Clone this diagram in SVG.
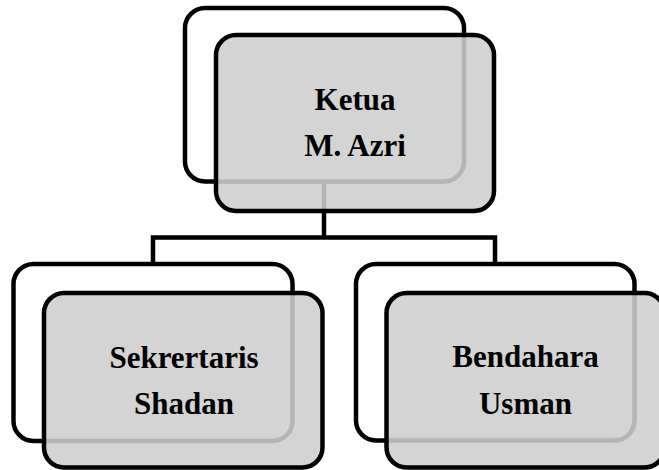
<svg xmlns="http://www.w3.org/2000/svg" width="659" height="470" viewBox="0 0 659 470">
<style>
.back{fill:#ffffff;stroke:#000000;stroke-width:4.5}
.front{fill:rgb(206,206,206);fill-opacity:0.88;stroke:#000000;stroke-width:4.5}
.conn{fill:none;stroke:#000000;stroke-width:4.5;stroke-linejoin:miter}
text{font-family:"Liberation Serif","Times New Roman",serif;font-weight:bold;font-size:31px;fill:#000000;text-anchor:middle}
</style>
<rect width="659" height="470" fill="#ffffff"/>
<g id="connectors">
<path class="conn" d="M324,181.5 V237.5"/>
<path class="conn" d="M153,264 V237.5 H495 V264"/>
</g>
<g id="ketua">
<rect class="back" x="185" y="8" width="279" height="173.5" rx="20"/>
<rect class="front" x="216" y="35" width="278" height="176" rx="20"/>
<text x="355" y="109.5">Ketua</text>
<text x="355" y="155.5">M. Azri</text>
</g>
<g id="sekretaris">
<rect class="back" x="13.5" y="264" width="279" height="177" rx="20"/>
<rect class="front" x="44" y="293" width="278.5" height="174.5" rx="20"/>
<text x="184" y="367.5">Sekrertaris</text>
<text x="184" y="414">Shadan</text>
</g>
<g id="bendahara">
<rect class="back" x="356" y="264" width="278.5" height="176.5" rx="20"/>
<rect class="front" x="386.5" y="293" width="278" height="174.5" rx="20"/>
<text x="525.5" y="367">Bendahara</text>
<text x="525.5" y="414">Usman</text>
</g>
</svg>
